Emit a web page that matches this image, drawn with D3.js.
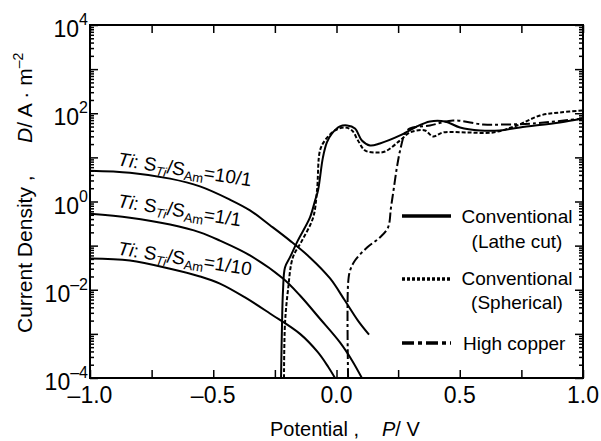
<!DOCTYPE html>
<html>
<head>
<meta charset="utf-8">
<script src="https://cdn.jsdelivr.net/npm/d3@7"></script>
<style>
  body { margin: 0; background: #fff; }
  svg text { font-family: "Liberation Sans", Arial, sans-serif; fill: #000; }
</style>
</head>
<body>
<svg id="chart" width="601" height="441"></svg>
<script>
// [potential V, current density A/m2]
const ti10 = [[-1.0, 5.0], [-0.838, 4.5], [-0.675, 3.3], [-0.554, 2.2], [-0.432, 1.1], [-0.351, 0.63],
  [-0.27, 0.29], [-0.189, 0.13], [-0.108, 0.054], [-0.026, 0.018], [0.034, 0.0057], [0.087, 0.002], [0.132, 0.00096]];
const ti1 = [[-1.0, 0.53], [-0.838, 0.43], [-0.675, 0.30], [-0.554, 0.20], [-0.473, 0.13], [-0.351, 0.060],
  [-0.217, 0.018], [-0.148, 0.0074], [-0.067, 0.0022], [0.014, 0.00064], [0.063, 0.00025], [0.103, 0.0001]];
const ti01 = [[-1.0, 0.051], [-0.838, 0.046], [-0.675, 0.030], [-0.554, 0.020], [-0.473, 0.0138], [-0.371, 0.0067],
  [-0.27, 0.0029], [-0.148, 0.001], [-0.075, 0.00038], [-0.034, 0.00018], [-0.006, 0.0001]];

const latheCut = [[-0.225, 0.0001], [-0.221, 0.0017], [-0.217, 0.0096], [-0.209, 0.032], [-0.189, 0.054],
  [-0.157, 0.13], [-0.108, 0.43], [-0.087, 1.05], [-0.075, 1.78], [-0.055, 10.0], [-0.039, 21.8], [-0.018, 34.8],
  [0.014, 50.2], [0.043, 52.9], [0.075, 45.2], [0.103, 24.2], [0.136, 18.6], [0.176, 20.7], [0.258, 31.4],
  [0.318, 47.6], [0.379, 65.2], [0.44, 65.2], [0.501, 47.6], [0.582, 40.7], [0.663, 40.7], [0.744, 47.6],
  [0.906, 61.8], [1.0, 76.2]];
const spherical = [[-0.213, 0.0001], [-0.209, 0.0017], [-0.197, 0.0096], [-0.177, 0.054], [-0.14, 0.13],
  [-0.095, 0.43], [-0.079, 1.78], [-0.067, 14.3], [-0.047, 24.2], [-0.006, 40.7], [0.034, 47.6], [0.063, 40.7],
  [0.087, 24.2], [0.116, 14.3], [0.156, 12.9], [0.197, 13.6], [0.258, 24.2], [0.298, 36.7], [0.359, 40.7],
  [0.391, 29.8], [0.432, 36.7], [0.53, 36.7], [0.635, 36.7], [0.732, 52.9], [0.826, 89.1], [0.906, 104], [1.0, 116]];
const highCopper = [[0.047, 0.0001], [0.047, 0.0138], [0.055, 0.0272], [0.075, 0.046], [0.124, 0.0905],
  [0.176, 0.153], [0.209, 0.257], [0.221, 0.73], [0.233, 2.08], [0.245, 5.9], [0.258, 14.3], [0.278, 34.8],
  [0.298, 45.2], [0.379, 52.9], [0.473, 68.7], [0.594, 55.7], [0.692, 55.7], [0.797, 58.7], [1.0, 76.2]];

const xTicks = [-1.0, -0.75, -0.5, -0.25, 0, 0.25, 0.5, 0.75, 1.0];
const xLabels = [-1.0, -0.5, 0, 0.5, 1.0];
const yLabelExp = [-4, -2, 0, 2, 4];

const tiLabels = [
  { ratio: "10/1", at: [-0.89, 6.6] },
  { ratio: "1/1", at: [-0.89, 0.75] },
  { ratio: "1/10", at: [-0.89, 0.063] }
];
const legendItems = [
  { lines: ["Conventional", "(Lathe cut)"], dash: null },
  { lines: ["Conventional", "(Spherical)"], dash: "3,2" },
  { lines: ["High copper"], dash: "12,4,4,4" }
];

const svg = d3.select("#chart");
const m = { left: 90, top: 25, right: 583, bottom: 378 };

const x = d3.scaleLinear().domain([-1, 1]).range([m.left, m.right]);
const y = d3.scaleLog().domain([1e-4, 1e4]).range([m.bottom, m.top]);

svg.append("clipPath").attr("id", "plot")
  .append("rect").attr("x", m.left).attr("y", m.top)
  .attr("width", m.right - m.left).attr("height", m.bottom - m.top);

const line = d3.line()
  .x(d => x(d[0]))
  .y(d => y(d[1]))
  .curve(d3.curveCatmullRom.alpha(0.5));

const curves = svg.append("g").attr("clip-path", "url(#plot)");

function drawCurve(data, dash) {
  curves.append("path")
    .attr("d", line(data))
    .attr("fill", "none")
    .attr("stroke", "#000")
    .attr("stroke-width", 2)
    .attr("stroke-dasharray", dash);
}

drawCurve(ti10, null);
drawCurve(ti1, null);
drawCurve(ti01, null);
drawCurve(latheCut, null);
drawCurve(spherical, "4,2");
drawCurve(highCopper, "10,3,3,3");

// y ticks: decades + minor 2..9
const minor = [];
for (let e = -4; e < 4; e++) {
  for (let k = 2; k <= 9; k++) minor.push(k * Math.pow(10, e));
}
const decades = d3.range(-4, 5).map(e => Math.pow(10, e));

function yAxis(axisFn, pos, size, values) {
  svg.append("g")
    .attr("transform", `translate(${pos},0)`)
    .call(axisFn(y).tickValues(values).tickSize(-size).tickFormat(""))
    .call(g => g.select(".domain").remove())
    .selectAll("line").attr("stroke-width", 1.5);
}
yAxis(d3.axisLeft, m.left, 8, decades);
yAxis(d3.axisLeft, m.left, 4, minor);
yAxis(d3.axisRight, m.right, 8, decades);
yAxis(d3.axisRight, m.right, 4, minor);

function xAxis(axisFn, pos) {
  svg.append("g")
    .attr("transform", `translate(0,${pos})`)
    .call(axisFn(x).tickValues(xTicks).tickSize(-8).tickFormat(""))
    .call(g => g.select(".domain").remove())
    .selectAll("line").attr("stroke-width", 1.5);
}
xAxis(d3.axisBottom, m.bottom);
xAxis(d3.axisTop, m.top);

svg.append("rect")
  .attr("x", m.left).attr("y", m.top)
  .attr("width", m.right - m.left).attr("height", m.bottom - m.top)
  .attr("fill", "none").attr("stroke", "#000").attr("stroke-width", 2);

// tick labels
svg.selectAll(".xl").data(xLabels).enter().append("text")
  .attr("x", d => x(d)).attr("y", 403)
  .attr("text-anchor", "middle").attr("font-size", 23)
  .text(d => d3.format(".1f")(d).replace("-", "\u2013").replace("\u2212", "\u2013"));

yLabelExp.forEach(e => {
  const t = svg.append("text")
    .attr("x", 88).attr("y", y(Math.pow(10, e)) + 12)
    .attr("text-anchor", "end").attr("font-size", 23);
  t.append("tspan").text("10");
  t.append("tspan").attr("font-size", 16).attr("dy", -12)
    .text(e < 0 ? "\u2013" + (-e) : String(e));
});

// axis titles
const xt = svg.append("text").attr("x", 270).attr("y", 436).attr("font-size", 20);
xt.append("tspan").text("Potential ,");
xt.append("tspan").attr("x", 382).attr("font-style", "italic").text("P");
xt.append("tspan").text("/ V");

const yt = svg.append("text")
  .attr("transform", "translate(32,333) rotate(-90)")
  .attr("font-size", 21);
yt.append("tspan").text("Current Density ,");
yt.append("tspan").attr("x", 190).attr("font-style", "italic").text("D");
yt.append("tspan").text("/ A \u00b7 m");
yt.append("tspan").attr("font-size", 14).attr("dy", -9).text("\u20132");

// Ti labels
tiLabels.forEach(l => {
  const t = svg.append("text")
    .attr("transform", `translate(${x(l.at[0])},${y(l.at[1])}) rotate(9)`)
    .attr("font-size", 19);
  t.append("tspan").attr("font-style", "italic").text("Ti");
  t.append("tspan").text(": S");
  t.append("tspan").attr("font-size", 13).attr("dy", 4).attr("font-style", "italic").text("Ti");
  t.append("tspan").attr("dy", -4).text("/S");
  t.append("tspan").attr("font-size", 13).attr("dy", 4).text("Am");
  t.append("tspan").attr("dy", -4).text("=" + l.ratio);
});

// legend
const legendY = [216, 279, 343];
const textY = [[223, 248], [285, 309], [350]];
legendItems.forEach((item, i) => {
  svg.append("line")
    .attr("x1", 402).attr("x2", 451)
    .attr("y1", legendY[i]).attr("y2", legendY[i])
    .attr("stroke", "#000").attr("stroke-width", 3.5)
    .attr("stroke-dasharray", item.dash);
  item.lines.forEach((s, j) => {
    svg.append("text")
      .attr("x", item.lines.length > 1 ? 517 : 463)
      .attr("y", textY[i][j])
      .attr("text-anchor", item.lines.length > 1 ? "middle" : "start")
      .attr("font-size", 19)
      .text(s);
  });
});
</script>
</body>
</html>
